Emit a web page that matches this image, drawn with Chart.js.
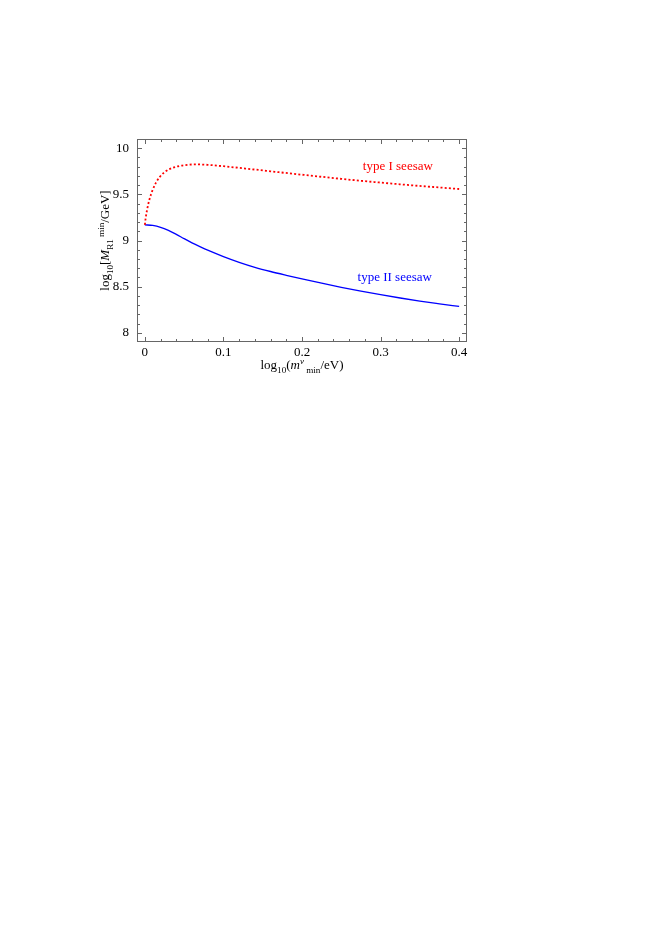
<!DOCTYPE html>
<html>
<head>
<meta charset="utf-8">
<script src="https://cdn.jsdelivr.net/npm/chart.js@4"></script>
<style>
  body { margin: 0; background: #fff; }
  canvas { display: block; }
</style>
</head>
<body>
<canvas id="seesawChart" width="661" height="936"></canvas>
<script>
// values
const typeOneX = [0, 0.001, 0.003, 0.006, 0.01, 0.014, 0.019, 0.025, 0.032, 0.04, 0.05, 0.065, 0.08, 0.1, 0.12, 0.14, 0.16, 0.19, 0.22, 0.25, 0.28, 0.31, 0.34, 0.37, 0.4];
const typeOneY = [9.17, 9.24, 9.34, 9.45, 9.55, 9.625, 9.69, 9.74, 9.776, 9.80, 9.816, 9.825, 9.82, 9.805, 9.787, 9.769, 9.75, 9.722, 9.695, 9.668, 9.643, 9.62, 9.598, 9.578, 9.558];
const typeTwoX = [0, 0.01, 0.02, 0.03, 0.04, 0.05, 0.06, 0.07, 0.08, 0.1, 0.12, 0.14, 0.16, 0.18, 0.2, 0.225, 0.25, 0.275, 0.3, 0.325, 0.35, 0.375, 0.4];
const typeTwoY = [9.17, 9.163, 9.143, 9.11, 9.067, 9.02, 8.975, 8.934, 8.895, 8.826, 8.764, 8.71, 8.664, 8.623, 8.584, 8.537, 8.493, 8.452, 8.413, 8.377, 8.344, 8.314, 8.285];
const xTicks = [0, 0.1, 0.2, 0.3, 0.4];
const yTicks = [8, 8.5, 9, 9.5, 10];

const serif = '"Liberation Serif", "DejaVu Serif", serif';

function toPoints(xs, ys) {
    return xs.map((x, i) => ({ x: x, y: ys[i] }));
}

// text pieces: [text, kind, italic]  kind: 'n' normal, 'sub', 'sup'
function richWidth(ctx, parts, size) {
    let w = 0;
    parts.forEach(p => {
        const s = p[1] === 'n' ? size : size * 0.7;
        ctx.font = (p[2] ? 'italic ' : '') + s + 'px ' + serif;
        w += ctx.measureText(p[0]).width;
    });
    return w;
}

function drawRich(ctx, parts, cx, y, size) {
    let x = cx - richWidth(ctx, parts, size) / 2;
    ctx.textBaseline = 'alphabetic';
    ctx.textAlign = 'left';
    parts.forEach(p => {
        const s = p[1] === 'n' ? size : size * 0.7;
        ctx.font = (p[2] ? 'italic ' : '') + s + 'px ' + serif;
        let dy = 0;
        if (p[1] === 'sub') dy = size * 0.3;
        if (p[1] === 'sup') dy = -size * 0.4;
        ctx.fillText(p[0], x, y + dy);
        x += ctx.measureText(p[0]).width;
    });
}

const framePlugin = {
    id: 'frame',
    afterDraw(chart) {
        const ctx = chart.ctx;
        const a = chart.chartArea;
        const xs = chart.scales.x;
        const ys = chart.scales.y;
        ctx.save();
        ctx.strokeStyle = '#666';
        ctx.lineWidth = 1;
        ctx.strokeRect(a.left + 0.5, a.top + 0.5, a.right - a.left - 1, a.bottom - a.top - 1);

        ctx.beginPath();
        for (let i = 0; i <= 20; i++) {
            const px = Math.round(xs.getPixelForValue(i * 0.02)) + 0.5;
            const len = i % 5 === 0 ? 5 : 3;
            ctx.moveTo(px, a.bottom); ctx.lineTo(px, a.bottom - len);
            ctx.moveTo(px, a.top); ctx.lineTo(px, a.top + len);
        }
        for (let i = 0; i <= 20; i++) {
            const py = Math.round(ys.getPixelForValue(8 + i * 0.1)) + 0.5;
            const len = i % 5 === 0 ? 5 : 3;
            ctx.moveTo(a.left, py); ctx.lineTo(a.left + len, py);
            ctx.moveTo(a.right, py); ctx.lineTo(a.right - len, py);
        }
        ctx.stroke();

        // curve labels
        ctx.font = '13px ' + serif;
        ctx.textAlign = 'center';
        ctx.textBaseline = 'middle';
        ctx.fillStyle = 'rgb(255,0,0)';
        ctx.fillText('type I seesaw', xs.getPixelForValue(0.322), ys.getPixelForValue(9.8));
        ctx.fillStyle = 'rgb(0,0,255)';
        ctx.fillText('type II seesaw', xs.getPixelForValue(0.318), ys.getPixelForValue(8.6));

        // axis titles
        ctx.fillStyle = '#000';
        drawRich(ctx, [['log', 'n'], ['10', 'sub'], ['(', 'n'], ['m', 'n', true], ['\u03bd', 'sup', true], [' min', 'sub'], ['/eV)', 'n']],
            (a.left + a.right) / 2, 369, 13);
        ctx.save();
        ctx.translate(109, (a.top + a.bottom) / 2);
        ctx.rotate(-Math.PI / 2);
        drawRich(ctx, [['log', 'n'], ['10', 'sub'], ['[', 'n'], ['M', 'n', true], ['R1', 'sub'], [' min', 'sup'], ['/GeV]', 'n']],
            0, 0, 13);
        ctx.restore();
        ctx.restore();
    }
};

new Chart(document.getElementById('seesawChart'), {
    type: 'scatter',
    data: {
        datasets: [
            {
                label: 'type I seesaw',
                data: toPoints(typeOneX, typeOneY),
                showLine: true,
                borderColor: 'rgb(255,0,0)',
                borderWidth: 1.8,
                borderDash: [2, 2.2],
                pointRadius: 0,
                cubicInterpolationMode: 'monotone'
            },
            {
                label: 'type II seesaw',
                data: toPoints(typeTwoX, typeTwoY),
                showLine: true,
                borderColor: 'rgb(0,0,255)',
                borderWidth: 1.3,
                pointRadius: 0,
                cubicInterpolationMode: 'monotone'
            }
        ]
    },
    options: {
        responsive: false,
        animation: false,
        layout: { padding: { left: 97, top: 139, right: 194, bottom: 564 } },
        plugins: {
            legend: { display: false },
            tooltip: { enabled: false }
        },
        scales: {
            x: {
                type: 'linear',
                min: -0.01,
                max: 0.41,
                grid: { display: false, drawTicks: false },
                border: { display: false },
                afterBuildTicks: s => { s.ticks = xTicks.map(v => ({ value: v })); },
                afterFit: s => { s.height = 30; },
                ticks: { color: '#000', padding: 3, font: { family: serif, size: 13 }, maxRotation: 0, callback: v => String(v) }
            },
            y: {
                type: 'linear',
                min: 7.9,
                max: 10.1,
                grid: { display: false, drawTicks: false },
                border: { display: false },
                afterBuildTicks: s => { s.ticks = yTicks.map(v => ({ value: v })); },
                afterFit: s => { s.width = 40; },
                ticks: { color: '#000', padding: 8, font: { family: serif, size: 13 }, callback: v => String(v) }
            }
        }
    },
    plugins: [framePlugin]
});
</script>
</body>
</html>
